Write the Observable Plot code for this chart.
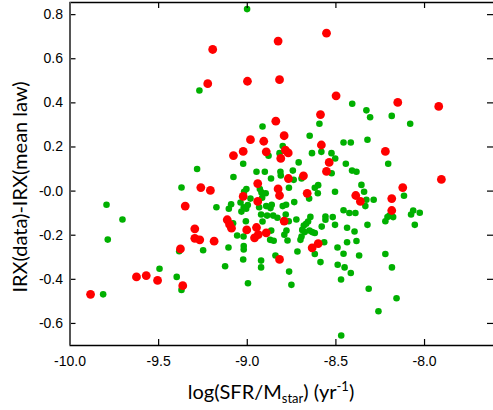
<!DOCTYPE html>
<html><head><meta charset="utf-8">
<script src="https://cdn.jsdelivr.net/npm/d3@7"></script>
<script src="https://cdn.jsdelivr.net/npm/@observablehq/plot@0.6"></script>
<style>body{margin:0;background:#fff}</style>
</head><body><div id="chart"></div>
<script>
const xTicks = [-10, -9.5, -9, -8.5, -8];
const xTickLabels = ["-10.0", "-9.5", "-9.0", "-8.5", "-8.0"];
const yTicks = [-0.6, -0.4, -0.2, 0, 0.2, 0.4, 0.6, 0.8];
const yTickLabels = ["-0.6", "-0.4", "-0.2", "-0.0", "0.2", "0.4", "0.6", "0.8"];
const xDomain = [-10, -7.611];
const yDomain = [-0.700, 0.855];
const xTitle = ["log(SFR/M", "star", ") (yr", "-1", ")"];
const yTitle = "IRX(data)-IRX(mean law)";

const greenPoints = [
[-9.001,0.825],[-9.270,0.456],[-8.408,0.396],[-8.328,0.366],[-8.307,0.335],[-8.185,0.341],[-8.081,0.305],
[-8.593,0.305],[-8.914,0.293],[-8.648,0.251],[-8.457,0.220],[-8.416,0.220],[-8.322,0.233],[-8.800,0.204],
[-8.880,0.160],[-8.818,0.172],[-8.635,0.172],[-8.582,0.178],[-8.525,0.172],[-8.504,0.148],[-9.023,0.124],
[-8.710,0.130],[-8.444,0.124],[-8.205,0.124],[-9.283,0.100],[-8.948,0.088],[-8.901,0.088],[-8.813,0.088],
[-8.811,0.071],[-8.743,0.093],[-8.524,0.081],[-8.409,0.093],[-8.384,0.088],[-9.078,0.064],[-8.866,0.057],
[-8.694,0.057],[-8.738,0.051],[-9.371,0.016],[-9.005,0.009],[-9.018,-0.003],[-8.929,0.009],[-8.920,-0.006],
[-8.896,-0.010],[-8.765,0.015],[-8.600,0.027],[-8.619,0.015],[-8.602,-0.010],[-8.505,-0.003],[-8.356,0.028],
[-8.341,-0.003],[-8.116,-0.021],[-8.651,-0.034],[-8.735,-0.050],[-8.328,-0.039],[-8.287,-0.039],[-9.038,-0.052],
[-8.982,-0.034],[-9.091,-0.060],[-9.174,-0.073],[-8.893,-0.068],[-8.862,-0.062],[-8.869,-0.077],[-8.933,-0.073],
[-8.997,-0.063],[-9.104,-0.080],[-9.033,-0.093],[-9.020,-0.073],[-9.006,-0.080],[-8.800,-0.068],[-8.781,-0.062],
[-8.922,-0.106],[-8.888,-0.111],[-8.854,-0.111],[-8.830,-0.121],[-8.783,-0.106],[-8.914,-0.138],[-9.080,-0.146],
[-9.008,-0.137],[-9.057,-0.201],[-9.021,-0.206],[-8.865,-0.179],[-8.871,-0.221],[-8.851,-0.225],[-8.791,-0.198],
[-8.779,-0.179],[-8.773,-0.224],[-9.384,-0.273],[-9.249,-0.268],[-9.106,-0.256],[-9.020,-0.249],[-9.020,-0.265],
[-8.841,-0.292],[-9.023,-0.310],[-8.922,-0.315],[-8.922,-0.346],[-9.125,-0.341],[-8.764,-0.365],[-8.996,-0.418],
[-9.398,-0.389],[-9.371,-0.448],[-9.495,-0.352],[-9.794,-0.062],[-9.704,-0.129],[-9.787,-0.220],[-9.813,-0.468],
[-8.766,-0.137],[-8.723,-0.129],[-8.644,-0.117],[-8.681,-0.156],[-8.668,-0.148],[-8.657,-0.138],[-8.649,-0.179],
[-8.690,-0.176],[-8.676,-0.186],[-8.634,-0.186],[-8.619,-0.190],[-8.694,-0.206],[-8.700,-0.221],[-8.559,-0.115],
[-8.559,-0.130],[-8.518,-0.118],[-8.457,-0.087],[-8.424,-0.099],[-8.390,-0.099],[-8.322,-0.153],[-8.505,-0.153],
[-8.580,-0.161],[-8.437,-0.166],[-8.395,-0.183],[-8.437,-0.232],[-8.384,-0.226],[-8.566,-0.232],[-8.717,-0.274],
[-8.619,-0.285],[-8.491,-0.256],[-8.457,-0.284],[-8.369,-0.292],[-8.221,-0.285],[-8.587,-0.322],[-8.490,-0.334],
[-8.451,-0.346],[-8.416,-0.371],[-8.184,-0.346],[-8.471,-0.401],[-8.751,-0.425],[-8.315,-0.443],[-8.260,-0.545],
[-8.158,-0.486],[-8.470,-0.655],[-8.221,-0.137],[-8.209,-0.118],[-8.198,-0.111],[-8.177,-0.118],[-8.064,-0.088],
[-8.076,-0.106],[-8.027,-0.098],[-8.055,-0.153],[-8.334,-0.068],[-8.916,-0.030]
];

const redPoints = [
[-9.195,0.642],[-9.223,0.487],[-8.999,0.498],[-8.826,0.680],[-8.553,0.716],[-8.818,0.505],[-8.499,0.432],
[-8.151,0.402],[-7.920,0.384],[-8.587,0.347],[-8.839,0.317],[-8.792,0.251],[-8.982,0.233],[-8.907,0.226],
[-8.582,0.209],[-9.023,0.180],[-9.078,0.161],[-8.893,0.178],[-8.785,0.186],[-8.769,0.173],[-8.811,0.148],
[-8.221,0.180],[-8.538,0.130],[-8.553,0.089],[-8.683,0.069],[-8.768,0.057],[-7.905,0.053],[-9.262,0.016],
[-9.208,0.003],[-8.941,0.034],[-8.826,0.010],[-8.818,-0.020],[-9.023,-0.024],[-8.662,-0.010],[-8.388,-0.020],
[-8.362,-0.047],[-8.123,0.016],[-8.185,-0.034],[-8.185,-0.088],[-8.941,-0.047],[-9.350,-0.068],[-8.792,-0.136],
[-9.113,-0.130],[-9.100,-0.151],[-9.089,-0.168],[-9.003,-0.176],[-8.948,-0.165],[-8.959,-0.212],[-8.938,-0.197],
[-8.893,-0.189],[-9.296,-0.171],[-9.296,-0.214],[-9.268,-0.221],[-9.187,-0.227],[-9.377,-0.262],[-8.818,-0.310],
[-8.600,-0.238],[-8.634,-0.257],[-9.625,-0.389],[-9.570,-0.383],[-9.506,-0.405],[-9.364,-0.429],[-9.884,-0.468]
];

const W = 493, H = 410, mL = 69.5, mR = 0, mT = 2, mB = 65;
const pw = W - mL - mR, ph = H - mT - mB, tk = 6;

const chart = Plot.plot({
  width: W, height: H,
  marginLeft: mL, marginRight: mR, marginTop: mT, marginBottom: mB,
  x: {domain: xDomain},
  y: {domain: yDomain},
  style: {fontFamily: "'Liberation Sans', Arial, sans-serif", fontSize: "14px", color: "#000", background: "#fff", overflow: "visible"},
  marks: [
    Plot.axisX(xTicks, {anchor: "bottom", tickSize: 0, tickPadding: 11, fontSize: 14,
      tickFormat: d => xTickLabels[xTicks.indexOf(d)], label: null}),
    Plot.axisY(yTicks, {anchor: "left", tickSize: 0, tickPadding: 7, fontSize: 14,
      tickFormat: d => yTickLabels[yTicks.indexOf(d)], label: null}),
    Plot.dot(greenPoints, {x: d => d[0], y: d => d[1], r: 3.3, fill: "#00b000", stroke: "none"}),
    Plot.dot(redPoints, {x: d => d[0], y: d => d[1], r: 4.4, fill: "#ff0000", stroke: "none"}),
    Plot.tickX(xTicks, {x: d => d, insetTop: ph - tk, stroke: "#000", strokeWidth: 1.2}),
    Plot.tickX(xTicks, {x: d => d, insetBottom: ph - tk, stroke: "#000", strokeWidth: 1.2}),
    Plot.tickY(yTicks, {y: d => d, insetRight: pw - tk, stroke: "#000", strokeWidth: 1.2}),
    Plot.tickY(yTicks, {y: d => d, insetLeft: pw - tk, stroke: "#000", strokeWidth: 1.2}),
    Plot.ruleY([yDomain[1]], {stroke: "#000", strokeWidth: 1.3}),
    Plot.ruleY([yDomain[0]], {stroke: "#000", strokeWidth: 1.6}),
    Plot.ruleX([xDomain[0]], {stroke: "#555", strokeWidth: 2})
  ]
});

const svg = d3.select(chart);
svg.append("text")
  .attr("transform", "translate(27,187) rotate(-90)")
  .attr("text-anchor", "middle")
  .attr("font-family", "Lato, 'Open Sans', sans-serif")
  .attr("font-size", 20)
  .attr("fill", "#000")
  .text(yTitle);
const xt = svg.append("text")
  .attr("x", 271).attr("y", 399)
  .attr("text-anchor", "middle")
  .attr("font-family", "Lato, 'Open Sans', sans-serif")
  .attr("font-size", 20)
  .attr("fill", "#000");
xt.append("tspan").text(xTitle[0]);
xt.append("tspan").attr("font-size", 13).attr("dy", 4).text(xTitle[1]);
xt.append("tspan").attr("dy", -4).text(xTitle[2]);
xt.append("tspan").attr("font-size", 13).attr("dy", -8).text(xTitle[3]);
xt.append("tspan").attr("dy", 8).text(xTitle[4]);

document.getElementById("chart").appendChild(chart);
</script>
</body></html>
